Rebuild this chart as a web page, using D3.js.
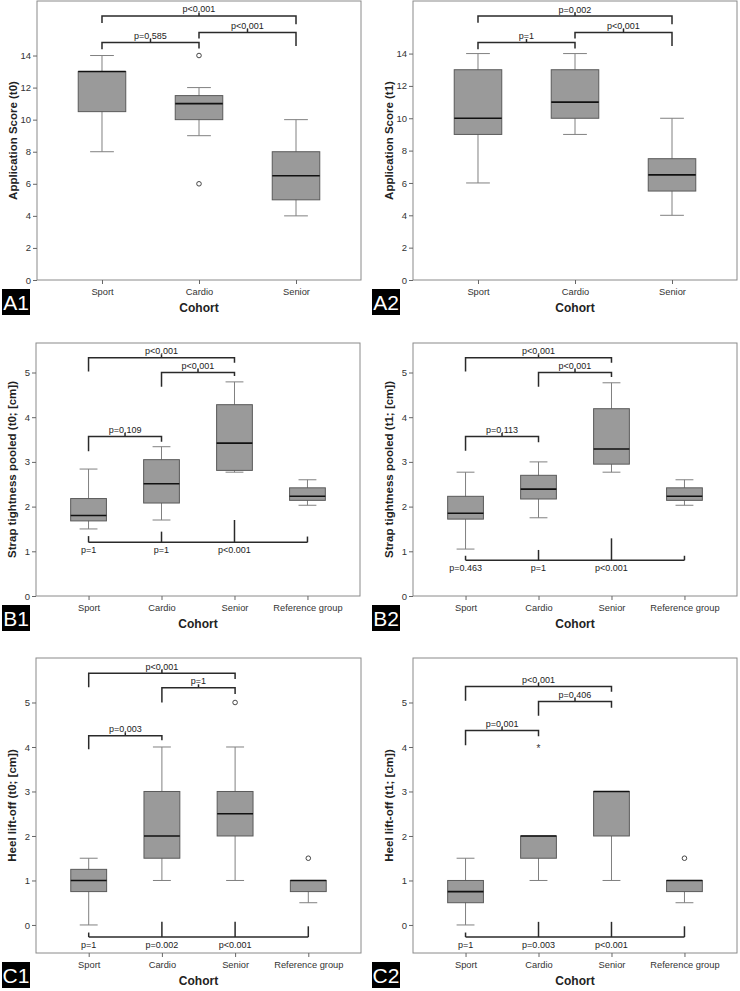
<!doctype html>
<html lang="en">
<head>
<meta charset="UTF-8">
<title>Cohort box plots</title>
<style>
  body { margin: 0; background: #fff; }
  svg { display: block; font-family: "Liberation Sans", Arial, sans-serif; }
  .tick text { fill: #333; }
</style>
</head>
<body>
<svg id="chart" width="740" height="991"></svg>
<script src="https://d3js.org/d3.v7.min.js"></script>
<script>
// categories
const cohorts3 = ["Sport", "Cardio", "Senior"];
const cohorts4 = ["Sport", "Cardio", "Senior", "Reference group"];

// tick values
const ticksA = [0, 2, 4, 6, 8, 10, 12, 14];
const ticksBC = [0, 1, 2, 3, 4, 5];

// box summaries per cohort: [whisker low, q1, median, q3, whisker high]
const a1Boxes = [[8, 10.5, 13, 13, 14], [9, 10, 11, 11.5, 12], [4, 5, 6.5, 8, 10]];
const a2Boxes = [[6, 9, 10, 13, 14], [9, 10, 11, 13, 14], [4, 5.5, 6.5, 7.5, 10]];
const b1Boxes = [[1.5, 1.68, 1.8, 2.18, 2.84], [1.7, 2.08, 2.51, 3.05, 3.34],
                 [2.77, 2.81, 3.42, 4.28, 4.79], [2.03, 2.14, 2.23, 2.42, 2.6]];
const b2Boxes = [[1.05, 1.72, 1.85, 2.23, 2.77], [1.75, 2.17, 2.39, 2.7, 3.0],
                 [2.77, 2.95, 3.29, 4.19, 4.77], [2.03, 2.14, 2.23, 2.42, 2.6]];
const c1Boxes = [[0, 0.75, 1, 1.25, 1.5], [1, 1.5, 2, 3, 4], [1, 2, 2.5, 3, 4], [0.5, 0.75, 1, 1, 1]];
const c2Boxes = [[0, 0.5, 0.75, 1, 1.5], [1, 1.5, 2, 2, 2], [1, 2, 3, 3, 3], [0.5, 0.75, 1, 1, 1]];

// outliers (o) and extremes (*)
const a1Outliers = [["Cardio", 14, "o"], ["Cardio", 6, "o"]];
const a2Outliers = [];
const b1Outliers = [];
const b2Outliers = [];
const c1Outliers = [["Senior", 5, "o"], ["Reference group", 1.5, "o"]];
const c2Outliers = [["Cardio", 4, "*"], ["Reference group", 1.5, "o"]];

// pairwise comparisons: [from, to, bar level, leg end at from, leg end at to, label]
const a1Pairs = [["Sport", "Senior", 16.47, 16.03, 15.95, "p<0.001"],
                 ["Cardio", "Senior", 15.43, 15.06, 14.6, "p<0.001"],
                 ["Sport", "Cardio", 14.81, 14.39, 14.44, "p=0.585"]];
const a2Pairs = [["Sport", "Senior", 16.32, 15.9, 15.81, "p=0.002"],
                 ["Cardio", "Senior", 15.3, 14.93, 14.47, "p<0.001"],
                 ["Sport", "Cardio", 14.68, 14.27, 14.31, "p=1"]];
const b1Pairs = [["Sport", "Senior", 5.33, 5.02, 5.22, "p<0.001"],
                 ["Cardio", "Senior", 5.0, 4.68, 4.92, "p<0.001"],
                 ["Sport", "Cardio", 3.57, 3.24, 3.45, "p=0.109"]];
const b2Pairs = [["Sport", "Senior", 5.33, 5.02, 5.22, "p<0.001"],
                 ["Cardio", "Senior", 5.0, 4.68, 4.9, "p<0.001"],
                 ["Sport", "Cardio", 3.57, 3.25, 3.44, "p=0.113"]];
const c1Pairs = [["Sport", "Senior", 5.66, 5.34, 5.53, "p<0.001"],
                 ["Cardio", "Senior", 5.33, 5.0, 5.19, "p=1"],
                 ["Sport", "Cardio", 4.25, 3.95, 4.15, "p=0.003"]];
const c2Pairs = [["Sport", "Senior", 5.36, 5.04, 5.24, "p<0.001"],
                 ["Cardio", "Senior", 5.02, 4.7, 4.88, "p=0.406"],
                 ["Sport", "Cardio", 4.37, 4.04, 4.24, "p=0.001"]];

// comparisons against reference group: bar level, leg tops per cohort, labels
const b1RefLevel = 1.2,   b1RefLegs = [1.34, 1.44, 1.7, 1.33],   b1RefLabels = ["p=1", "p=1", "p<0.001", ""];
const b2RefLevel = 0.8,   b2RefLegs = [0.9, 1.03, 1.29, 0.9],    b2RefLabels = ["p=0.463", "p=1", "p<0.001", ""];
const c1RefLevel = -0.27, c1RefLegs = [-0.17, 0.07, 0.07, -0.03], c1RefLabels = ["p=1", "p=0.002", "p<0.001", ""];
const c2RefLevel = -0.27, c2RefLegs = [-0.17, 0.07, 0.07, -0.03], c2RefLabels = ["p=1", "p=0.003", "p<0.001", ""];

const svg = d3.select("#chart");

function panel(o) {
    const g = svg.append("g");
    const x = d3.scalePoint().domain(o.cats).range([o.l, o.r]).padding(o.pad);
    const y = d3.scaleLinear().domain(o.yDomain).range([o.b, o.t]);
    const bw = x.step() * 0.49;

    // frame
    g.append("rect")
        .attr("x", o.l).attr("y", o.t)
        .attr("width", o.r - o.l).attr("height", o.b - o.t)
        .attr("fill", "none").attr("stroke", "#8a8a8a").attr("stroke-width", 1);

    const ya = g.append("g")
        .attr("transform", "translate(" + o.l + ",0)")
        .call(d3.axisLeft(y).tickValues(o.ticks).tickFormat(d3.format("d"))
            .tickSize(4).tickPadding(2).tickSizeOuter(0));
    ya.select(".domain").remove();
    ya.selectAll("line").attr("stroke", "#666");
    ya.selectAll("text").attr("font-size", "9.5px").attr("font-family", "Liberation Sans, Arial, sans-serif");

    const xa = g.append("g")
        .attr("transform", "translate(0," + o.b + ")")
        .call(d3.axisBottom(x).tickSize(4).tickPadding(4).tickSizeOuter(0));
    xa.select(".domain").remove();
    xa.selectAll("line").attr("stroke", "#666");
    xa.selectAll("text").attr("font-size", "9.3px").attr("font-family", "Liberation Sans, Arial, sans-serif");

    // whiskers
    const bx = g.append("g").selectAll("g").data(o.boxes).join("g")
        .attr("transform", (d, i) => "translate(" + x(o.cats[i]) + ",0)");
    bx.append("line")
        .attr("y1", d => y(d[0])).attr("y2", d => y(d[4]))
        .attr("stroke", "#808080").attr("stroke-width", 1);
    bx.filter(d => d[0] < d[1]).append("line")
        .attr("x1", -bw / 4).attr("x2", bw / 4)
        .attr("y1", d => y(d[0])).attr("y2", d => y(d[0]))
        .attr("stroke", "#808080");
    bx.filter(d => d[4] > d[3]).append("line")
        .attr("x1", -bw / 4).attr("x2", bw / 4)
        .attr("y1", d => y(d[4])).attr("y2", d => y(d[4]))
        .attr("stroke", "#808080");
    bx.append("rect")
        .attr("x", -bw / 2).attr("width", bw)
        .attr("y", d => y(d[3])).attr("height", d => y(d[1]) - y(d[3]))
        .attr("fill", "#9a9a9a").attr("stroke", "#5a5a5a").attr("stroke-width", 1);
    bx.append("line")
        .attr("x1", -bw / 2).attr("x2", bw / 2)
        .attr("y1", d => y(d[2])).attr("y2", d => y(d[2]))
        .attr("stroke", "#111").attr("stroke-width", 1.6);

    // outliers
    o.outliers.forEach(function (p) {
        if (p[2] === "o") {
            g.append("circle")
                .attr("cx", x(p[0])).attr("cy", y(p[1])).attr("r", 2.3)
                .attr("fill", "#fff").attr("stroke", "#333").attr("stroke-width", 0.9);
        } else {
            g.append("text")
                .attr("x", x(p[0])).attr("y", y(p[1]) + 5)
                .attr("text-anchor", "middle").attr("font-size", "10px").attr("fill", "#333")
                .text("*");
        }
    });

    // pairwise brackets
    o.pairs.forEach(function (p) {
        const x1 = x(p[0]), x2 = x(p[1]), yy = y(p[2]), xm = (x1 + x2) / 2;
        g.append("path")
            .attr("d", "M" + x1 + "," + y(p[3]) + "V" + yy + "H" + x2 + "V" + y(p[4])
                + "M" + xm + "," + yy + "V" + (yy - 3.5))
            .attr("fill", "none").attr("stroke", "#2a2a2a").attr("stroke-width", 1.5);
        g.append("text")
            .attr("x", xm).attr("y", yy - 3.5)
            .attr("text-anchor", "middle").attr("font-size", "9px").attr("fill", "#222")
            .text(p[5]);
    });

    // comparisons against reference group
    if (o.refLevel !== undefined) {
        const yr = y(o.refLevel);
        g.append("path")
            .attr("d", "M" + x(o.cats[0]) + "," + yr + "H" + x(o.cats[o.cats.length - 1]))
            .attr("stroke", "#2a2a2a").attr("stroke-width", 1.5);
        g.append("g").selectAll("line").data(o.refLegs).join("line")
            .attr("x1", (d, i) => x(o.cats[i])).attr("x2", (d, i) => x(o.cats[i]))
            .attr("y1", yr).attr("y2", d => y(d))
            .attr("stroke", "#2a2a2a").attr("stroke-width", 1.5);
        g.append("g").selectAll("text").data(o.refLabels).join("text")
            .attr("x", (d, i) => x(o.cats[i])).attr("y", yr + 11)
            .attr("text-anchor", "middle").attr("font-size", "9px").attr("fill", "#222")
            .text(d => d);
    }

    // titles
    g.append("text")
        .attr("x", (o.l + o.r) / 2).attr("y", o.b + 32)
        .attr("text-anchor", "middle").attr("font-size", "12px").attr("font-weight", "bold")
        .attr("fill", "#222").text("Cohort");
    g.append("text")
        .attr("transform", "translate(" + (o.l - 20) + "," + ((o.t + o.b) / 2) + ") rotate(-90)")
        .attr("text-anchor", "middle").attr("font-size", "11.5px").attr("font-weight", "bold")
        .attr("fill", "#222").text(o.yTitle);

    // panel tag
    g.append("rect")
        .attr("x", o.tagX).attr("y", o.b + 9).attr("width", 28).attr("height", 26)
        .attr("fill", "#000");
    g.append("text")
        .attr("x", o.tagX + 14).attr("y", o.b + 30)
        .attr("text-anchor", "middle").attr("font-size", "21px").attr("fill", "#fff")
        .text(o.tag);
}

panel({tag: "A1", tagX: 2, l: 37, t: 1, r: 361, b: 280, pad: 0.67, cats: cohorts3,
       yDomain: [0, 17.4], ticks: ticksA, boxes: a1Boxes, outliers: a1Outliers, pairs: a1Pairs,
       yTitle: "Application Score (t0)"});
panel({tag: "A2", tagX: 372, l: 413, t: 1, r: 737, b: 280, pad: 0.67, cats: cohorts3,
       yDomain: [0, 17.25], ticks: ticksA, boxes: a2Boxes, outliers: a2Outliers, pairs: a2Pairs,
       yTitle: "Application Score (t1)"});
panel({tag: "B1", tagX: 2, l: 36, t: 343, r: 360, b: 596, pad: 0.72, cats: cohorts4,
       yDomain: [0, 5.66], ticks: ticksBC, boxes: b1Boxes, outliers: b1Outliers, pairs: b1Pairs,
       refLevel: b1RefLevel, refLegs: b1RefLegs, refLabels: b1RefLabels,
       yTitle: "Strap tightness pooled (t0; [cm])"});
panel({tag: "B2", tagX: 372, l: 413, t: 343, r: 737, b: 596, pad: 0.72, cats: cohorts4,
       yDomain: [0, 5.66], ticks: ticksBC, boxes: b2Boxes, outliers: b2Outliers, pairs: b2Pairs,
       refLevel: b2RefLevel, refLegs: b2RefLegs, refLabels: b2RefLabels,
       yTitle: "Strap tightness pooled (t1; [cm])"});
panel({tag: "C1", tagX: 2, l: 36, t: 658, r: 361, b: 953, pad: 0.72, cats: cohorts4,
       yDomain: [-0.63, 6.0], ticks: ticksBC, boxes: c1Boxes, outliers: c1Outliers, pairs: c1Pairs,
       refLevel: c1RefLevel, refLegs: c1RefLegs, refLabels: c1RefLabels,
       yTitle: "Heel lift-off (t0; [cm])"});
panel({tag: "C2", tagX: 372, l: 413, t: 658, r: 737, b: 953, pad: 0.72, cats: cohorts4,
       yDomain: [-0.63, 6.0], ticks: ticksBC, boxes: c2Boxes, outliers: c2Outliers, pairs: c2Pairs,
       refLevel: c2RefLevel, refLegs: c2RefLegs, refLabels: c2RefLabels,
       yTitle: "Heel lift-off (t1; [cm])"});
</script>
</body>
</html>
